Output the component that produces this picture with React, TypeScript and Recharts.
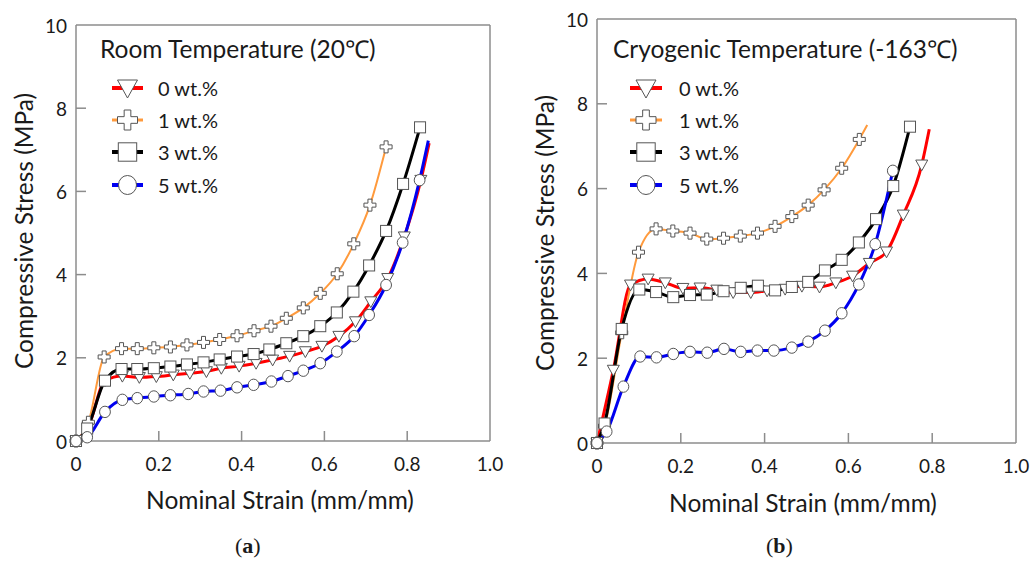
import React from 'react';
import { LineChart, Line, XAxis, YAxis, ReferenceLine, Legend } from 'recharts';

const strainTicks = [0, 0.2, 0.4, 0.6, 0.8, 1.0];
const strainLabels = ['0', '0.2', '0.4', '0.6', '0.8', '1.0'];
const stressTicks = [0, 2, 4, 6, 8, 10];
const stressLabels = ['0', '2', '4', '6', '8', '10'];

const seriesNames = ['0 wt.%', '1 wt.%', '3 wt.%', '5 wt.%'];
const seriesColors = ['#ff0000', '#ff9a3c', '#000000', '#0000f0'];
const seriesShapes = ['triangle', 'cross', 'square', 'circle'];
const lineWidths = [3, 2, 3, 3];

// (a) room temperature, [strain, stress]
const room0 = [[0, 0], [0.03, 0.35], [0.07, 1.45], [0.112, 1.56], [0.153, 1.53], [0.194, 1.55], [0.235, 1.59], [0.275, 1.63], [0.315, 1.67], [0.351, 1.75], [0.394, 1.8], [0.435, 1.87], [0.475, 1.95], [0.516, 2.04], [0.554, 2.15], [0.594, 2.28], [0.635, 2.52], [0.675, 2.87], [0.712, 3.35], [0.753, 3.91], [0.793, 4.91], [0.833, 6.27], [0.853, 7.16]];
const room1 = [[0, 0], [0.03, 0.45], [0.068, 2.02], [0.11, 2.22], [0.148, 2.22], [0.188, 2.24], [0.228, 2.26], [0.268, 2.31], [0.308, 2.37], [0.347, 2.44], [0.389, 2.53], [0.43, 2.65], [0.471, 2.76], [0.508, 2.95], [0.549, 3.2], [0.59, 3.55], [0.631, 4.02], [0.671, 4.74], [0.71, 5.67], [0.749, 7.07]];
const room3 = [[0, 0], [0.027, 0.3], [0.07, 1.45], [0.11, 1.73], [0.148, 1.73], [0.188, 1.75], [0.228, 1.79], [0.268, 1.84], [0.308, 1.89], [0.347, 1.96], [0.389, 2.03], [0.429, 2.09], [0.467, 2.2], [0.508, 2.35], [0.549, 2.52], [0.59, 2.76], [0.63, 3.09], [0.67, 3.59], [0.708, 4.22], [0.749, 5.05], [0.79, 6.18], [0.831, 7.54]];
const room5 = [[0, 0], [0.027, 0.09], [0.07, 0.7], [0.112, 0.99], [0.148, 1.03], [0.188, 1.07], [0.228, 1.1], [0.271, 1.13], [0.308, 1.19], [0.349, 1.21], [0.389, 1.29], [0.429, 1.35], [0.472, 1.43], [0.512, 1.56], [0.549, 1.69], [0.59, 1.87], [0.63, 2.15], [0.672, 2.52], [0.708, 3.03], [0.749, 3.75], [0.789, 4.77], [0.83, 6.27], [0.851, 7.22]];

// (b) cryogenic temperature
const cryo0 = [[0, 0], [0.039, 1.72], [0.08, 3.73], [0.122, 3.87], [0.163, 3.78], [0.205, 3.65], [0.246, 3.66], [0.286, 3.61], [0.325, 3.55], [0.367, 3.55], [0.406, 3.59], [0.449, 3.63], [0.489, 3.7], [0.531, 3.68], [0.57, 3.78], [0.61, 3.94], [0.65, 4.24], [0.691, 4.51], [0.731, 5.38], [0.775, 6.56], [0.793, 7.4]];
const cryo1 = [[0, 0], [0.018, 0.4], [0.059, 2.6], [0.099, 4.5], [0.141, 5.05], [0.181, 5.0], [0.222, 4.95], [0.262, 4.81], [0.302, 4.83], [0.342, 4.88], [0.383, 4.95], [0.425, 5.11], [0.465, 5.34], [0.504, 5.61], [0.542, 5.97], [0.584, 6.48], [0.626, 7.16], [0.645, 7.5]];
const cryo3 = [[0, 0], [0.018, 0.46], [0.059, 2.69], [0.101, 3.62], [0.141, 3.56], [0.182, 3.44], [0.222, 3.49], [0.262, 3.5], [0.302, 3.58], [0.343, 3.66], [0.384, 3.71], [0.425, 3.6], [0.465, 3.68], [0.504, 3.8], [0.544, 4.07], [0.584, 4.32], [0.625, 4.73], [0.666, 5.28], [0.707, 6.06], [0.747, 7.46]];
const cryo5 = [[0, 0], [0.023, 0.27], [0.063, 1.33], [0.103, 2.04], [0.142, 2.02], [0.182, 2.1], [0.222, 2.15], [0.263, 2.13], [0.303, 2.22], [0.343, 2.15], [0.383, 2.18], [0.422, 2.18], [0.465, 2.25], [0.504, 2.39], [0.544, 2.65], [0.584, 3.06], [0.625, 3.74], [0.664, 4.69], [0.706, 6.42]];

// last point of these curves carries no marker
const roomTails = [1, 0, 0, 1];
const cryoTails = [1, 1, 0, 0];

const FONT = 'Lato, "Open Sans", sans-serif';
const AXIS = '#8c8c8c';
const TEXT = '#1a1a1a';

const toRows = (pts: number[][]) => pts.map(([x, y]) => ({ x, y }));

function Marker({ shape, cx, cy, size }: { shape: string; cx: number; cy: number; size: number }) {
  const h = size / 2;
  const st = { fill: '#fff', stroke: '#555', strokeWidth: 1 };
  if (shape === 'triangle') {
    return <polygon points={`${cx - h},${cy - h * 0.8} ${cx + h},${cy - h * 0.8} ${cx},${cy + h}`} {...st} />;
  }
  if (shape === 'cross') {
    const a = size / 6;
    const p = [
      [-a, -h], [a, -h], [a, -a], [h, -a], [h, a], [a, a],
      [a, h], [-a, h], [-a, a], [-h, a], [-h, -a], [-a, -a],
    ].map(([dx, dy]) => `${cx + dx},${cy + dy}`).join(' ');
    return <polygon points={p} {...st} />;
  }
  if (shape === 'square') {
    return <rect x={cx - h * 0.92} y={cy - h * 0.92} width={h * 1.84} height={h * 1.84} {...st} />;
  }
  return <ellipse cx={cx} cy={cy} rx={h * 0.9} ry={h * 0.95} {...st} />;
}

const XTick = (props: any) => {
  const { x, y, payload } = props;
  const v = payload.value;
  return (
    <g>
      {v > 0 && v < 1 && <line x1={x} x2={x} y1={y} y2={y - 10} stroke={AXIS} strokeWidth={1.5} />}
      <text x={x} y={y + 22} textAnchor="middle" dominantBaseline="central" fontSize={19} fontFamily={FONT} fill={TEXT}>
        {strainLabels[strainTicks.indexOf(v)]}
      </text>
    </g>
  );
};

const YTick = (props: any) => {
  const { x, y, payload } = props;
  const v = payload.value;
  return (
    <g>
      {v > 0 && v < 10 && <line x1={x} x2={x + 10} y1={y} y2={y} stroke={AXIS} strokeWidth={1.5} />}
      <text x={x - 9} y={y} textAnchor="end" dominantBaseline="central" fontSize={19} fontFamily={FONT} fill={TEXT}>
        {stressLabels[stressTicks.indexOf(v)]}
      </text>
    </g>
  );
};

interface PanelProps {
  title: string;
  series: number[][][];
  tails: number[];
  width: number;
  margin: { top: number; right: number; bottom: number; left: number };
  yAxisWidth: number;
  legendPos: { left: number; top: number };
  legendGeom: { x1: number; x2: number; tx: number };
  xTitle: { x: number; y: number };
  yTitle: { x: number; y: number };
}

function Panel({ title, series, tails, width, margin, yAxisWidth, legendPos, legendGeom, xTitle, yTitle }: PanelProps) {
  const rowsY = [58, 90, 122, 155];
  return (
    <LineChart width={width} height={564} margin={margin} style={{ overflow: 'visible' }}>
      <XAxis
        type="number"
        dataKey="x"
        domain={[0, 1]}
        ticks={strainTicks}
        height={40}
        tickLine={false}
        tickSize={0}
        tickMargin={0}
        tick={<XTick />}
        axisLine={{ stroke: AXIS, strokeWidth: 1.5 }}
        label={{
          content: () => (
            <text x={xTitle.x} y={xTitle.y} textAnchor="middle" fontSize={24.5} fontFamily={FONT} fill={TEXT}>
              Nominal Strain (mm/mm)
            </text>
          ),
        }}
      />
      <YAxis
        type="number"
        domain={[0, 10]}
        ticks={stressTicks}
        width={yAxisWidth}
        tickLine={false}
        tickSize={0}
        tickMargin={0}
        tick={<YTick />}
        axisLine={{ stroke: AXIS, strokeWidth: 1.5 }}
        label={{
          content: () => (
            <text
              x={yTitle.x}
              y={yTitle.y}
              textAnchor="middle"
              fontSize={24.5}
              fontFamily={FONT}
              fill={TEXT}
              transform={`rotate(-90, ${yTitle.x}, ${yTitle.y})`}
            >
              Compressive Stress (MPa)
            </text>
          ),
        }}
      />
      <ReferenceLine y={10} stroke={AXIS} strokeWidth={1.5} />
      <ReferenceLine x={1} stroke={AXIS} strokeWidth={1.5} />
      {series.map((pts, i) => (
        <Line
          key={seriesNames[i]}
          data={toRows(pts)}
          dataKey="y"
          name={seriesNames[i]}
          type="monotone"
          stroke={seriesColors[i]}
          strokeWidth={lineWidths[i]}
          isAnimationActive={false}
          activeDot={false}
          dot={(p: any) =>
            p.index >= pts.length - tails[i] ? (
              <g key={`e${i}-${p.index}`} />
            ) : (
              <Marker key={`m${i}-${p.index}`} shape={seriesShapes[i]} cx={p.cx} cy={p.cy} size={12} />
            )
          }
        />
      ))}
      <Legend
        layout="vertical"
        align="center"
        verticalAlign="middle"
        wrapperStyle={{ position: 'absolute', left: legendPos.left, top: legendPos.top, width: 360, height: 175 }}
        content={() => (
          <svg width={360} height={175} style={{ overflow: 'visible' }}>
            <text x={10} y={28} fontSize={24.5} fontFamily={FONT} fill={TEXT}>
              {title}
            </text>
            {seriesNames.map((n, i) => (
              <g key={n}>
                <line
                  x1={legendGeom.x1}
                  x2={legendGeom.x2}
                  y1={rowsY[i]}
                  y2={rowsY[i]}
                  stroke={seriesColors[i]}
                  strokeWidth={i === 1 ? 3 : 4}
                />
                <Marker shape={seriesShapes[i]} cx={(legendGeom.x1 + legendGeom.x2) / 2} cy={rowsY[i]} size={20} />
                <text x={legendGeom.tx} y={rowsY[i]} dominantBaseline="central" fontSize={20} fontFamily={FONT} fill={TEXT}>
                  {n}
                </text>
              </g>
            ))}
          </svg>
        )}
      />
    </LineChart>
  );
}

export default function App() {
  const capStyle: React.CSSProperties = {
    position: 'absolute',
    top: 533,
    fontFamily: '"Liberation Serif", "DejaVu Serif", serif',
    fontSize: 22,
    color: TEXT,
    lineHeight: '26px',
  };
  return (
    <div style={{ position: 'absolute', left: 0, top: 0, width: 1030, height: 564, background: '#fff' }}>
      <div style={{ position: 'absolute', left: 0, top: 0 }}>
        <Panel
          title="Room Temperature (20℃)"
          series={[room0, room1, room3, room5]}
          tails={roomTails}
          width={520}
          margin={{ top: 25, right: 30, bottom: 83, left: 0 }}
          yAxisWidth={76}
          legendPos={{ left: 90, top: 30 }}
          legendGeom={{ x1: 22, x2: 53, tx: 68 }}
          xTitle={{ x: 280, y: 509 }}
          yTitle={{ x: 33, y: 231 }}
        />
      </div>
      <div style={{ position: 'absolute', left: 520, top: 0 }}>
        <Panel
          title="Cryogenic Temperature (-163℃)"
          series={[cryo0, cryo1, cryo3, cryo5]}
          tails={cryoTails}
          width={510}
          margin={{ top: 19, right: 14, bottom: 81, left: 0 }}
          yAxisWidth={77}
          legendPos={{ left: 83, top: 30 }}
          legendGeom={{ x1: 27, x2: 59, tx: 76 }}
          xTitle={{ x: 283, y: 512 }}
          yTitle={{ x: 34, y: 233 }}
        />
      </div>
      <div style={{ ...capStyle, left: 235 }}>
        (<b>a</b>)
      </div>
      <div style={{ ...capStyle, left: 766 }}>
        (<b>b</b>)
      </div>
    </div>
  );
}
